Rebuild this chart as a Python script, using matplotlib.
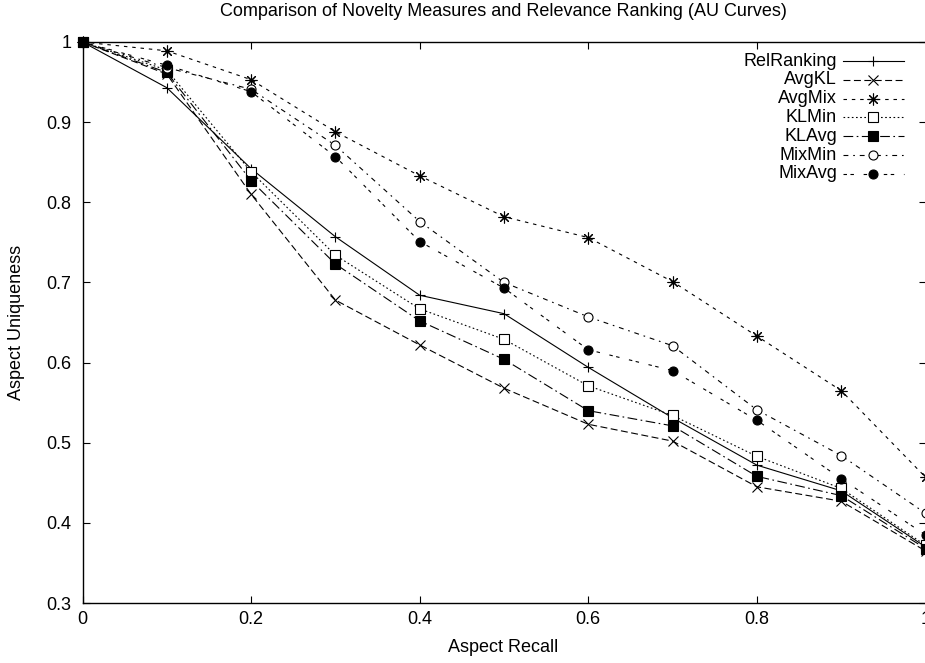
import matplotlib
matplotlib.use("Agg")
import matplotlib.pyplot as plt
from matplotlib.ticker import FormatStrFormatter

plt.rcParams['font.family'] = ['Liberation Sans', 'DejaVu Sans']
plt.rcParams['lines.scale_dashes'] = False

recall = [0.0, 0.1, 0.2, 0.3, 0.4, 0.5, 0.6, 0.7, 0.8, 0.9, 1.0]

rel_ranking = [1.0, 0.943, 0.842, 0.757, 0.684, 0.661, 0.594, 0.531, 0.472, 0.440, 0.370]
avg_kl      = [1.0, 0.960, 0.810, 0.678, 0.622, 0.568, 0.523, 0.502, 0.445, 0.427, 0.365]
avg_mix     = [1.0, 0.989, 0.953, 0.888, 0.833, 0.782, 0.756, 0.701, 0.633, 0.565, 0.457]
kl_min      = [1.0, 0.965, 0.838, 0.734, 0.667, 0.629, 0.571, 0.534, 0.483, 0.443, 0.372]
kl_avg      = [1.0, 0.962, 0.827, 0.723, 0.652, 0.604, 0.540, 0.521, 0.458, 0.434, 0.368]
mix_min     = [1.0, 0.968, 0.941, 0.871, 0.776, 0.700, 0.657, 0.621, 0.541, 0.484, 0.412]
mix_avg     = [1.0, 0.971, 0.938, 0.857, 0.751, 0.693, 0.616, 0.590, 0.528, 0.455, 0.385]

series_names = ['RelRanking', 'AvgKL', 'AvgMix', 'KLMin', 'KLAvg', 'MixMin', 'MixAvg']
series_vals = [rel_ranking, avg_kl, avg_mix, kl_min, kl_avg, mix_min, mix_avg]

# gnuplot-like line types and point types
styles = [
    dict(linestyle='-', marker='+', mfc='black', ms=7),
    dict(linestyle=(0, (5, 2.5)), marker='x', mfc='black', ms=6.5),
    dict(linestyle=(0, (2.5, 3.5)), marker=(8, 2, 0), mfc='black', ms=8.5),
    dict(linestyle=(0, (1.2, 1.8)), marker='s', mfc='white', ms=6.5),
    dict(linestyle=(0, (7, 2.5, 1.2, 2.5)), marker='s', mfc='black', ms=6.5),
    dict(linestyle=(0, (3.5, 3.5, 1.2, 3.5)), marker='o', mfc='white', ms=6.5),
    dict(linestyle=(0, (2.5, 2.5, 2.5, 7)), marker='o', mfc='black', ms=6.5),
]

fig = plt.figure(figsize=(9.25, 6.63), dpi=100)
ax = fig.add_axes([82.5 / 925, 1 - 603 / 663, 843 / 925, 561 / 663])

for name, vals, st in zip(series_names, series_vals, styles):
    ax.plot(recall, vals, color='black', lw=0.8, mew=0.8,
            mec='black', clip_on=False, **st)

ax.set_xlim(0, 1)
ax.set_ylim(0.3, 1)
ax.set_xticks([0, 0.2, 0.4, 0.6, 0.8, 1.0])
ax.set_yticks([0.3, 0.4, 0.5, 0.6, 0.7, 0.8, 0.9, 1.0])
ax.xaxis.set_major_formatter(FormatStrFormatter('%g'))
ax.yaxis.set_major_formatter(FormatStrFormatter('%g'))
ax.tick_params(direction='in', length=5, width=0.8, top=True, right=True,
               labelsize=13)
ax.tick_params(axis='x', pad=6)
ax.tick_params(axis='y', pad=8)
for sp in ax.spines.values():
    sp.set_linewidth(1.0)

fig.text(503 / 925, 1 - 12 / 663,
         'Comparison of Novelty Measures and Relevance Ranking (AU Curves)',
         ha='center', va='center', fontsize=13)
fig.text(503 / 925, 1 - 648 / 663, 'Aspect Recall',
         ha='center', va='center', fontsize=13)
fig.text(17 / 925, 1 - 322 / 663, 'Aspect Uniqueness', rotation=90,
         ha='center', va='center', fontsize=13)

# key in the top right, labels right-aligned before the samples
key_y0, key_dy = 0.966, 0.0335
for i, (name, st) in enumerate(zip(series_names, styles)):
    y = key_y0 - i * key_dy
    ax.text(0.895, y, name, transform=ax.transAxes, ha='right',
            va='center', fontsize=13)
    ax.plot([0.902, 0.938, 0.974], [y, y, y], transform=ax.transAxes,
            color='black', lw=0.8, mew=0.8, mec='black',
            markevery=[1], clip_on=False, **st)

fig.savefig('out.png', dpi=100)
